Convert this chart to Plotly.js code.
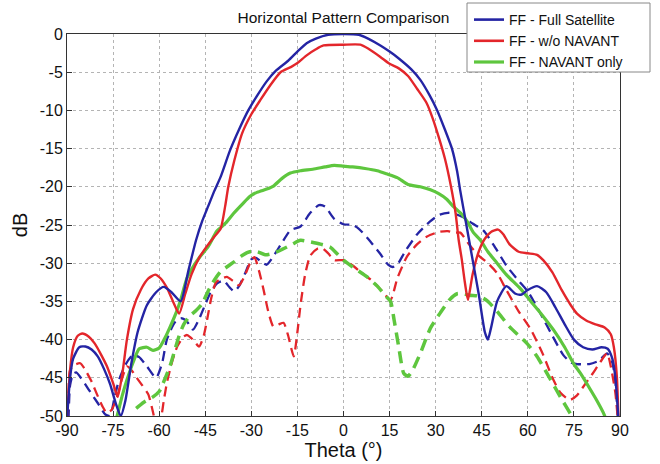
<!DOCTYPE html>
<html>
<head>
<meta charset="utf-8">
<script src="https://cdn.plot.ly/plotly-3.0.1.min.js"></script>
<style>html,body{margin:0;padding:0;background:#fff;}#chart{width:660px;height:464px;}</style>
</head>
<body>
<div id="chart"></div>
<script>
// ---- data (theta in degrees, level in dB) ----
var fullSatTheta = [-90,-89,-88,-86,-84,-82,-80,-78,-76,-74,-72.5,-71,-69,-67,-64,-61,-58.5,-56,-53,-50.5,-48,-46,-44,-42,-40,-37,-34,-31,-28,-25,-22,-18,-15,-12,-9,-5,0,5,8,12,15,18,22,25,28,30.5,33,35.3,37,38,40,42,44,46,47,48,50,53,56,58,60,63,66,69,72,75,78,81,84,86,87.5,88.5,89.5];
var fullSatDb    = [-50.5,-45,-42.5,-41,-40.9,-41.3,-42.2,-43.8,-45.8,-48.5,-50,-48,-43,-39,-35.5,-33.8,-33.1,-33.8,-35,-31,-27,-24.5,-22.5,-20.5,-18.7,-15.3,-12.5,-10,-8,-6.2,-4.8,-3.5,-2.3,-1.2,-0.6,-0.1,0,-0.1,-0.6,-1.5,-2.3,-3.2,-4.6,-6,-8,-10,-12.5,-15,-18,-20.5,-25,-29.5,-34,-39,-40,-38.5,-35,-33,-34,-34.1,-33.5,-33,-33.8,-35.8,-38,-40,-41,-41.3,-41,-41.2,-42.5,-45,-50.5];

var woNavTheta = [-90,-89,-88,-86.5,-85,-83,-81,-79,-77,-75,-73.5,-72,-70.5,-68.5,-66,-63.5,-61.3,-59.5,-57.5,-55.5,-53.5,-51.5,-49.5,-47,-44.5,-42,-40,-38.5,-37.5,-35.5,-33,-30,-27,-24,-20.5,-17,-15,-12,-9,-6.5,0,5.5,8,12,15,18,21,24,27,29,31,33,35,36.5,37.5,38.5,39.5,40.5,42,44,46,48,50.3,52,54,57,60,63,65,68,71,74,76,79,82,85,87,88,89,89.5];
var woNavDb    = [-50.5,-44,-41,-39.5,-39.2,-39.6,-40.5,-41.9,-43.5,-45.7,-47.5,-44.5,-40,-36,-33.5,-32,-31.5,-32,-33.2,-35,-36.6,-34,-31.5,-29.3,-27.8,-26.5,-25.5,-22.5,-20,-16.5,-13,-10.5,-8.6,-6.8,-5,-4.3,-3.8,-2.8,-2,-1.5,-1.4,-1.4,-1.9,-3,-3.9,-4.5,-5.5,-7.2,-9,-11,-13.5,-16.3,-20,-23.5,-27,-29.5,-32.5,-34.8,-31.5,-28.5,-26.8,-25.9,-25.6,-26.2,-27.5,-28.5,-28.7,-28.9,-29.6,-31.2,-33.5,-35.5,-36.6,-37.5,-38,-38.4,-39.3,-41,-45,-50.5];

var navOnlyTheta = [-74.5,-73.7,-72,-70.5,-68.5,-66.5,-64,-62,-60,-58,-56.4,-54.5,-53,-51,-49,-46.6,-44,-41.2,-38.5,-35.8,-33,-30.3,-28,-25,-22.8,-20,-17.3,-14,-10,-6,-3,0,3,7,11,14,17.5,21,25,28.3,31,33.5,35.8,38.5,40.5,42.3,44.6,47,50,53,57.5,61,64.5,68.3,72,75,77.1,80,82.5,84.6,86];
var navOnlyDb    = [-51,-50,-47.3,-45.3,-43,-41.2,-41,-41.4,-41.1,-39.7,-38.3,-36.5,-34.8,-32,-30.5,-29.1,-27.8,-25.8,-24.8,-23.5,-22.3,-21.2,-20.7,-20.3,-19.9,-18.9,-18.2,-17.9,-17.7,-17.4,-17.2,-17.3,-17.4,-17.6,-17.9,-18.3,-18.8,-19.7,-20,-20.4,-20.9,-21.6,-22.6,-23.6,-24.7,-26,-27,-28.5,-30,-31.5,-33.3,-35,-36.7,-38.7,-41,-43.2,-44.4,-46.3,-48,-49.6,-51];

// dashed companions
var fullSat2Theta = [-89.5,-89,-88,-87,-85.5,-83,-80,-77.5,-76,-74.5,-73,-71,-68.5,-66.5,-64,-61,-59,-57.5,-55,-53,-51,-49,-47,-45,-43,-41,-39,-37,-35.5,-34,-32,-30,-28.5,-26.5,-25,-23,-20,-17.3,-14,-11,-8,-6,-3,0,3,5,8,12,14.5,16,17.5,20,24,28,31,34,36,39,42,45.5,49,53,57,60,64,68,71.5,74,76,80,83,85.8,87.5,88.5,89.3];
var fullSat2Db    = [-50.5,-46,-44.5,-44.3,-45,-46.5,-48.3,-49.8,-50,-47.5,-45.2,-43.3,-42,-42.3,-43.5,-45,-43,-40,-37.8,-37.2,-37.6,-38.7,-37.3,-35.4,-33.6,-32.6,-32.3,-33.2,-33.7,-33,-31.3,-29.5,-29.3,-29.9,-30.2,-29.2,-27.3,-25.7,-25.2,-23.5,-22.4,-22.6,-24.2,-24.9,-25,-25.5,-26.8,-28.8,-30.2,-30.5,-30.2,-28.5,-26.2,-24.6,-23.7,-23.4,-23.5,-24,-24.8,-25.7,-27.7,-30.3,-32.3,-33.7,-36.5,-39.5,-42,-43,-43.2,-43.2,-42.8,-41.8,-43,-45.5,-50.5];

var woNav2Theta = [-89.5,-89,-87.5,-85.7,-84,-82,-80.2,-78.5,-77,-75.5,-73.7,-72,-70.5,-69,-67.3,-65.5,-63.5,-62,-61,-59.6,-58.5,-57.4,-55.5,-54,-52,-50.9,-49,-47,-45.5,-44.4,-43,-41.5,-40,-38,-36,-34,-32,-30,-29,-27.5,-26,-24.5,-22.8,-21,-19.5,-18,-16.2,-15,-14,-12.5,-10.8,-8.5,-7,-5,-3,0,3,6,9,12,15.3,17.5,20.7,24,27.2,31,34,36,38,41,44,47,50,53,57,61,65,68,70.7,73.7,76,78,81,83.5,85.8,87,88.5,89.3];
var woNav2Db    = [-47,-44,-43.3,-43.1,-44,-45.5,-47.2,-48.7,-49.6,-49.2,-47.5,-45,-43.5,-44,-45,-46,-47.2,-49.5,-51,-50.5,-48,-45.5,-42.5,-40.8,-39.6,-39.4,-40,-40.9,-39.5,-37.4,-34.5,-32.5,-32.1,-31.8,-32.3,-32.9,-31.5,-29.6,-29.2,-31,-33.5,-36.3,-38.3,-38,-37.8,-39.5,-42.2,-39,-35.5,-31.5,-29,-28.1,-28,-28.7,-29.6,-29.6,-30.3,-31.3,-32.2,-33.4,-34.8,-32,-29.1,-27.5,-26.5,-25.9,-25.8,-26,-26,-27.6,-29,-30,-31.3,-33.5,-36.3,-38.7,-42,-45,-47,-47.9,-47.3,-46.2,-44.5,-43,-41.8,-43.5,-47,-50.5];

var navOnly2Theta = [-67.5,-65,-62,-60,-58.5,-56.5,-55,-53.5,-52,-50,-48,-46,-44,-42,-40,-38,-35.5,-33,-30.5,-28,-25.5,-22.8,-20,-17,-14,-11,-7.5,-4.3,-2,0,3,7.7,11,13.5,15.3,16.5,18,19.6,21,22.5,25,28.3,31.5,34.5,37,39,41,44,46.7,50,54,59.7,63,66.2,70.6,74,76];
var navOnly2Db    = [-49,-48.2,-47.5,-46.8,-45.5,-43.5,-41.5,-39.5,-38,-36.9,-36.2,-35.3,-33.6,-32.2,-31.1,-30.5,-29.8,-29,-28.5,-28.5,-28.9,-28.7,-28.2,-27.6,-27,-27.2,-27.5,-27.9,-28.8,-29.6,-30.5,-31.8,-33,-34.2,-35,-37.5,-41,-44.4,-44.8,-44,-41.8,-38.5,-36.5,-34.8,-34,-34,-34.2,-34.3,-34.9,-36.3,-38.3,-40.5,-42.2,-44.4,-47.5,-49.8,-51];

var seriesNames = ['FF - Full Satellite', 'FF - w/o NAVANT', 'FF - NAVANT only'];
var xTicks = [-90,-75,-60,-45,-30,-15,0,15,30,45,60,75,90];
var yTicks = [0,-5,-10,-15,-20,-25,-30,-35,-40,-45,-50];

// ---- styles ----
var BLUE = '#2424a4', RED = '#e3262b', GREEN = '#5ec63e';
var FONT = 'Liberation Sans, Arial, sans-serif';

function tr(x, y, color, width, dash, name, show) {
  return {
    x: x, y: y, type: 'scatter', mode: 'lines', name: name, showlegend: show,
    line: {color: color, width: width, dash: dash, shape: 'spline', smoothing: 0.6},
    hoverinfo: 'skip'
  };
}

var data = [
  tr(fullSat2Theta, fullSat2Db, BLUE, 2.3, '10px,6px', '', false),
  tr(woNav2Theta, woNav2Db, RED, 2.3, '10px,6px', '', false),
  tr(navOnly2Theta, navOnly2Db, GREEN, 3.5, '12px,7px', '', false),
  tr(navOnlyTheta, navOnlyDb, GREEN, 3.2, 'solid', seriesNames[2], false),
  tr(woNavTheta, woNavDb, RED, 2.4, 'solid', seriesNames[1], false),
  tr(fullSatTheta, fullSatDb, BLUE, 2.4, 'solid', seriesNames[0], false),
  {x:[null], y:[null], type:'scatter', mode:'lines', name: seriesNames[0], line:{color:BLUE, width:2.6}},
  {x:[null], y:[null], type:'scatter', mode:'lines', name: seriesNames[1], line:{color:RED, width:2.6}},
  {x:[null], y:[null], type:'scatter', mode:'lines', name: seriesNames[2], line:{color:GREEN, width:3.2}}
];

var axisCommon = {
  showline: true, mirror: true, linecolor: '#333', linewidth: 1,
  ticks: 'inside', ticklen: 5, tickcolor: '#333',
  showgrid: true, gridcolor: '#b4b4b4', gridwidth: 1, griddash: 'dot',
  zeroline: false,
  tickfont: {family: FONT, size: 16, color: '#111'}
};

// plot area: 67..620 px wide (553), 34..416 px tall (382)
var layout = {
  width: 660, height: 464,
  margin: {l: 67, r: 40, t: 34, b: 48, autoexpand: false},
  paper_bgcolor: '#fff', plot_bgcolor: '#fff',
  title: {text: 'Horizontal Pattern Comparison', x: 0.5, xref: 'paper', xanchor: 'center',
          y: 0.962, yref: 'container', yanchor: 'middle',
          font: {family: FONT, size: 15.5, color: '#111'}},
  xaxis: Object.assign({}, axisCommon, {
    range: [-90, 90], tickvals: xTicks, ticktext: xTicks.map(String),
    title: {text: 'Theta (°)', standoff: 2, font: {family: FONT, size: 20, color: '#111'}}
  }),
  yaxis: Object.assign({}, axisCommon, {
    range: [-50, 0], tickvals: yTicks, ticktext: yTicks.map(String),
    title: {text: 'dB', standoff: 6, font: {family: FONT, size: 20, color: '#111'}}
  }),
  shapes: [{
    type: 'rect', xref: 'paper', yref: 'paper', layer: 'above',
    x0: (467 - 67) / 553, x1: (650 - 67) / 553,
    y0: 1 + (34 - 72) / 382, y1: 1 + (34 - 3) / 382,
    line: {color: '#888', width: 1}, fillcolor: '#ffffff'
  }],
  legend: {
    x: (469 - 67) / 553, y: 1 + (34 - 4) / 382, xanchor: 'left', yanchor: 'top',
    bgcolor: 'rgba(0,0,0,0)', borderwidth: 0,
    font: {family: FONT, size: 14, color: '#111'},
    tracegroupgap: 0
  },
  showlegend: true
};

Plotly.newPlot('chart', data, layout, {staticPlot: true, displayModeBar: false});
</script>
</body>
</html>
